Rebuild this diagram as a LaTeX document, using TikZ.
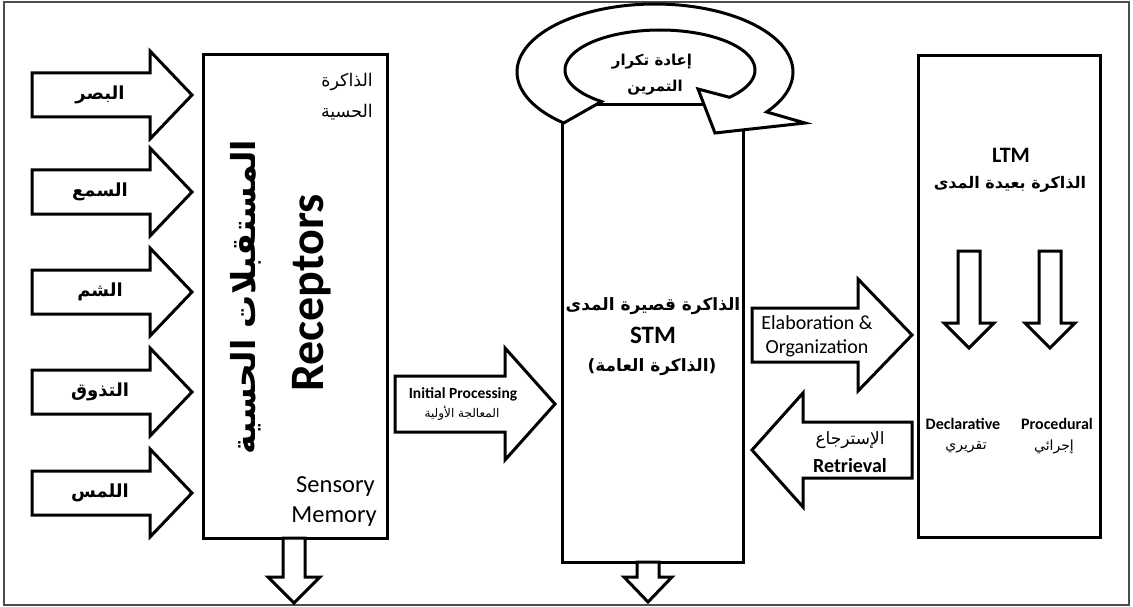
\documentclass[tikz,border=0pt]{standalone}
\usepackage{fontspec}
\setmainfont{Carlito}
\newfontfamily\ar[Script=Arabic]{DejaVu Sans}
\TeXXeTstate=1
\newcommand{\AR}[1]{{\ar\beginR #1\endR}}
\newcommand{\rarrow}[7]{% name, tail x, head base x, tip x, centre y, body half, head half
  \draw[blk] (#2,{#5-#6}) -- (#3,{#5-#6}) -- (#3,{#5-#7}) -- (#4,#5) -- (#3,{#5+#7}) -- (#3,{#5+#6}) -- (#2,{#5+#6}) -- cycle;
  \coordinate (#1) at ({(#2+#3)/2},#5);}
\newcommand{\darrow}[7]{% name, centre x, top y, head base y, tip y, body half, head half
  \draw[blk] ({#2-#6},#3) -- ({#2+#6},#3) -- ({#2+#6},#4) -- ({#2+#7},#4) -- (#2,#5) -- ({#2-#7},#4) -- ({#2-#6},#4) -- cycle;
  \coordinate (#1) at (#2,#3);}
\begin{document}
\begin{tikzpicture}[x=1pt,y=-1pt,
  blk/.style={draw=black,line width=3pt,fill=white,line join=miter},
  membox/.style={draw=black,line width=3pt,fill=white,inner sep=0pt},
  lbl/.style={inner sep=0pt,align=center},
  arb/.style={lbl,font=\bfseries\fontsize{18}{21}\selectfont}]
\useasboundingbox (0,0) rectangle (1133,607);
\draw[line width=1.3pt,black!70] (4,2) rectangle (1129,605);

% boxes
\node[membox,minimum width=184pt,minimum height=483pt] (sens) at (295,296.5) {};
\node[membox,minimum width=181pt,minimum height=457pt] (stm) at (652.5,333.5) {};
\node[membox,minimum width=182pt,minimum height=481pt] (ltm) at (1009,296.5) {};

% rehearsal loop
\draw[blk] plot[domain=131.4:396,samples=90] ({655+138*cos(\x)},{72+68*sin(\x)})
  -- (805,123) -- (715,133) -- (698,89)
  -- plot[domain=43:-232,samples=90] ({660+95*cos(\x)},{70+40*sin(\x)}) -- cycle;
\node[lbl,font=\bfseries\fontsize{15}{18}\selectfont] (reh1) at (652,62) {\AR{إعادة تكرار}};
\node[lbl,font=\bfseries\fontsize{15}{18}\selectfont] (reh2) at (655,88) {\AR{التمرين}};

% sense arrows
\rarrow{a1}{32}{150}{192}{95}{22}{44}
\rarrow{a2}{32}{150}{192}{192}{22}{44}
\rarrow{a3}{32}{150}{192}{292}{22}{44}
\rarrow{a4}{32}{150}{192}{392}{22}{44}
\rarrow{a5}{32}{150}{192}{493}{22}{44}
\node[arb] (s1) at (100,95) {\AR{البصر}};
\node[arb] (s2) at (100,192) {\AR{السمع}};
\node[arb] (s3) at (100,292) {\AR{الشم}};
\node[arb] (s4) at (100,392) {\AR{التذوق}};
\node[arb] (s5) at (100,493) {\AR{اللمس}};

% sensory texts
\node[lbl,anchor=east,font=\fontsize{17.5}{20}\selectfont] (sm1) at (373,82) {\AR{الذاكرة}};
\node[lbl,anchor=east,font=\fontsize{17.5}{20}\selectfont] (sm2) at (373,112) {\AR{الحسية}};
\node[lbl,rotate=90,font=\bfseries\fontsize{33}{36}\selectfont] (rcpa) at (246,297) {\AR{المستقبلات الحسية}};
\node[lbl,rotate=90,font=\bfseries\fontsize{48}{52}\selectfont] (rcp) at (312,293) {Receptors};
\node[lbl,anchor=east,font=\fontsize{24.5}{27}\selectfont] (sm3) at (375,487) {Sensory};
\node[lbl,anchor=east,font=\fontsize{24.5}{27}\selectfont] (sm4) at (377,517) {Memory};

% down arrows
\darrow{d1}{294}{538}{577}{603}{11}{26}
\darrow{d2}{648}{562}{577}{602}{11}{24}
\darrow{d3}{969}{251}{323}{348}{11}{25}
\darrow{d4}{1050}{251}{323}{348}{11}{25}

% initial processing
\rarrow{ip}{395}{505}{555}{404}{28}{56}
\node[lbl,font=\bfseries\fontsize{15.5}{18}\selectfont] (ip1) at (463,394) {Initial Processing};
\node[lbl,font=\fontsize{12}{14}\selectfont] (ip2) at (462,413) {\AR{المعالجة الأولية}};

% STM texts
\node[lbl,font=\bfseries\fontsize{17}{20}\selectfont] (stm1) at (653,306) {\AR{الذاكرة قصيرة المدى}};
\node[lbl,font=\bfseries\fontsize{25}{28}\selectfont] (stm2) at (653,335) {STM};
\node[lbl,font=\bfseries\fontsize{17}{20}\selectfont] (stm3) at (652,367) {\AR{(الذاكرة العامة)}};

% elaboration / retrieval
\rarrow{el}{752}{858}{912}{335}{27}{56}
\node[lbl,font=\fontsize{20}{23}\selectfont] (el1) at (817,323) {Elaboration \&};
\node[lbl,font=\fontsize{20}{23}\selectfont] (el2) at (817,348) {Organization};
\rarrow{rt}{912}{803}{752}{450}{28}{57}
\node[lbl,font=\fontsize{17}{20}\selectfont] (rt1) at (850,440) {\AR{الإسترجاع}};
\node[lbl,font=\bfseries\fontsize{20}{23}\selectfont] (rt2) at (850,466) {Retrieval};

% LTM texts
\node[lbl,font=\bfseries\fontsize{22}{25}\selectfont] (ltm1) at (1011,155) {LTM};
\node[lbl,font=\bfseries\fontsize{16}{19}\selectfont] (ltm2) at (1010,184) {\AR{الذاكرة بعيدة المدى}};
\node[lbl,font=\bfseries\fontsize{16}{19}\selectfont] (dc1) at (963,424) {Declarative};
\node[lbl,font=\fontsize{14}{17}\selectfont] (dc2) at (966,447) {\AR{تقريري}};
\node[lbl,font=\bfseries\fontsize{16}{19}\selectfont] (pr1) at (1057,424) {Procedural};
\node[lbl,font=\fontsize{14}{17}\selectfont] (pr2) at (1054,447) {\AR{إجرائي}};
\end{tikzpicture}
\end{document}
